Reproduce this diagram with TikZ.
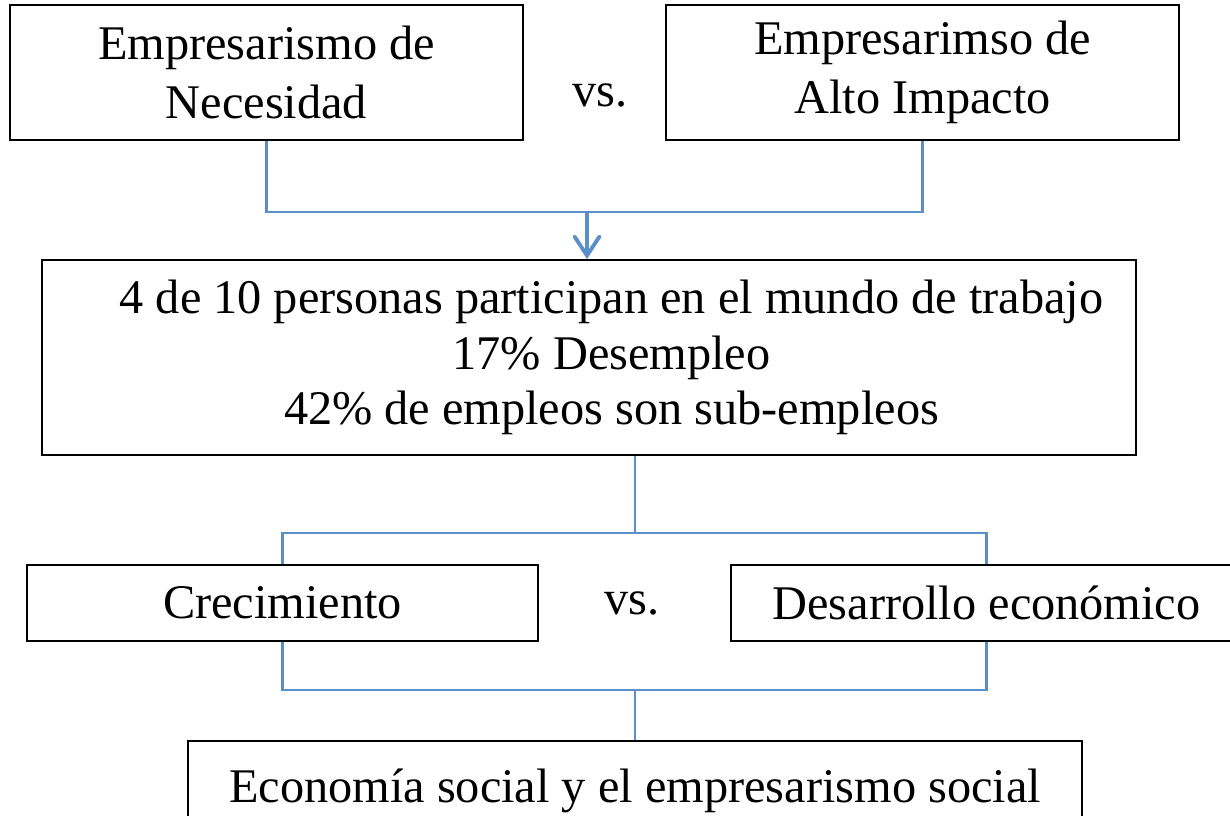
\documentclass[tikz,border=0pt]{standalone}
\usepackage{fontspec}
\setmainfont{Liberation Serif}
\usetikzlibrary{arrows.meta}
\definecolor{linkblue}{HTML}{5B8FC9}

\begin{document}
\begin{tikzpicture}[block/.style={rectangle,draw=black,line width=1.1pt,align=center,inner sep=0pt,font=\fontsize{27.5}{34}\selectfont},
link/.style={draw=linkblue,line width=1.2pt}]
\useasboundingbox (0,0) rectangle (24.6,-16.32);

\path
(5.33,-1.45) node [block,minimum width=10.26cm,minimum height=2.7cm] (neces) {Empresarismo de\\Necesidad}
(18.45,-1.45) node [block,minimum width=10.26cm,minimum height=2.7cm] (alto) {Empresarimso de\\Alto Impacto}
(12.0,-1.9) node [font=\fontsize{27.5}{34}\selectfont] (vsA) {vs.}
(11.78,-7.15) node [block,minimum width=21.88cm,minimum height=3.9cm,font=\fontsize{27.5}{31.5}\selectfont] (datos) {\hspace*{0.9cm}4 de 10 personas participan en el mundo de trabajo\\\hspace*{0.9cm}17\% Desempleo\\\hspace*{0.9cm}42\% de empleos son sub-empleos}
(5.65,-12.06) node [block,minimum width=10.22cm,minimum height=1.52cm] (crec) {Crecimiento}
(19.73,-12.06) node [block,minimum width=10.22cm,minimum height=1.52cm] (desa) {Desarrollo econ\'omico}
(12.64,-12.06) node [font=\fontsize{27.5}{34}\selectfont] (vsB) {vs.}
(12.7,-15.82) node [block,minimum width=17.88cm,minimum height=2.0cm] (social) {Econom\'ia social y el empresarismo social}
;

% junction points
\coordinate (topbar) at (11.74,-4.24);
\coordinate (midbar) at (12.7,-10.66);
\coordinate (lowbar) at (12.7,-13.8);

\begin{scope}[every path/.style=link]
\path (neces.south) |- (topbar) -| (alto.south);
\path[-{Straight Barb[length=3.8mm,width=5mm,line cap=round]},line width=2.2pt] (topbar) -- (topbar |- datos.north);
\path (midbar |- datos.south) -- (midbar);
\path (crec.north) |- (midbar) -| (desa.north);
\path (crec.south) |- (lowbar) -| (desa.south);
\path (lowbar) -- (social.north);
\end{scope}

\end{tikzpicture}
\end{document}
